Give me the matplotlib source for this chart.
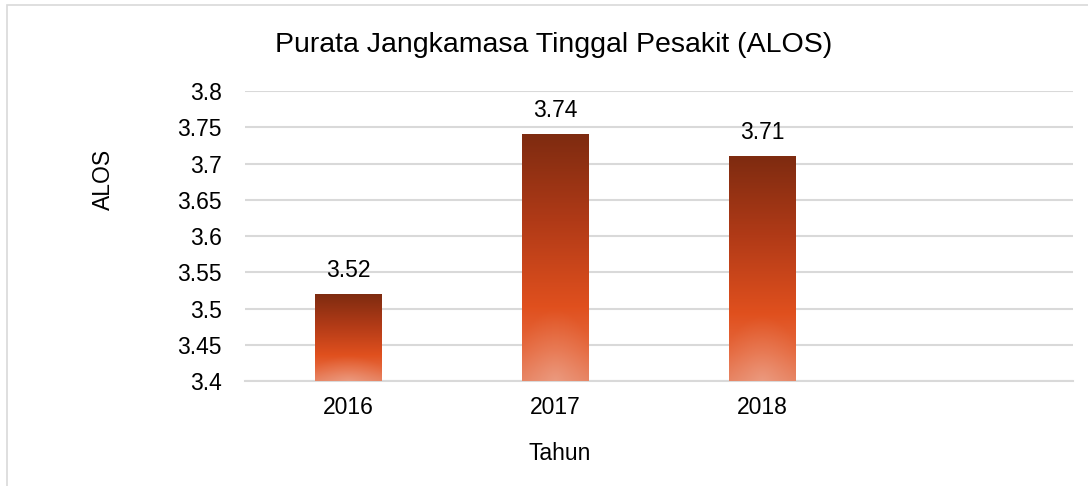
import numpy as np
import matplotlib.pyplot as plt
from matplotlib.colors import LinearSegmentedColormap
from matplotlib.patches import Rectangle

plt.rcParams['font.family'] = ['Liberation Sans', 'DejaVu Sans']

years = ['2016', '2017', '2018', '']
alos = [3.52, 3.74, 3.71]

fig = plt.figure(figsize=(10.88, 4.86), dpi=100)
ax = fig.add_axes([245 / 1088, 1 - 381 / 486, (1073 - 245) / 1088, (381 - 91) / 486])

ax.set_yticks(np.arange(3.4, 3.81, 0.05))
ax.set_yticklabels(['3.4', '3.45', '3.5', '3.55', '3.6', '3.65', '3.7', '3.75', '3.8'])
ax.set_xticks(range(4))
ax.set_xticklabels(years)
ax.tick_params(length=0, labelsize=16.5, colors='black')
ax.tick_params(axis='x', pad=11)
ax.tick_params(axis='y', pad=16.5)
for s in ['top', 'right', 'left']:
    ax.spines[s].set_visible(False)
ax.spines['bottom'].set_color('#d9d9d9')
ax.spines['bottom'].set_linewidth(1.5)
ax.grid(axis='y', color='#d9d9d9', linewidth=1.5)
ax.set_axisbelow(True)

cmap = LinearSegmentedColormap.from_list('bar', [
    (0.0, '#e6805e'), (0.12, '#e56a40'), (0.3, '#e0501e'),
    (0.65, '#b03a17'), (1.0, '#7e2b10')])

bars = ax.bar(range(3), [v - 3.4 for v in alos], bottom=3.4, width=0.32,
              color='none', edgecolor='none', zorder=3)
for b, v in zip(bars, alos):
    x0, w = b.get_x(), b.get_width()
    grad = np.linspace(0, 1, 256).reshape(-1, 1)
    xx = np.linspace(-1, 1, 64).reshape(1, -1)
    img = cmap(grad * np.ones((1, 64)))
    # soft light spot at bottom centre
    glow = np.clip(1 - np.sqrt((xx * 0.8) ** 2 + (grad * 3.5) ** 2), 0, 1)[..., None] * 0.2
    img[..., :3] = img[..., :3] * (1 - glow) + glow
    im = ax.imshow(img, extent=[x0, x0 + w, 3.4, v], origin='lower',
                   aspect='auto', zorder=3)
    im.set_clip_path(b)
    ax.text(b.get_x() + w / 2, v + 0.017, f'{v:.2f}', ha='center', va='bottom',
            fontsize=16.5, zorder=4)

ax.set_xlim(-0.5, 3.5)
ax.set_ylim(3.4, 3.8)

fig.text(554 / 1088, 1 - 45 / 486, 'Purata Jangkamasa Tinggal Pesakit (ALOS)',
         ha='center', va='center', fontsize=20.5)
fig.text(103 / 1088, 1 - 179 / 486, 'ALOS', ha='center', va='center',
         rotation=90, fontsize=16.5)
fig.text(560 / 1088, 1 - 453 / 486, 'Tahun', ha='center', va='center', fontsize=16.5)

fig.patches.append(Rectangle((7 / 1088, -0.1), 1.2, 1 - 5 / 486 + 0.1,
                             transform=fig.transFigure, fill=False,
                             edgecolor='#d9d9d9', linewidth=1.2))

fig.savefig('out.png', dpi=100)
